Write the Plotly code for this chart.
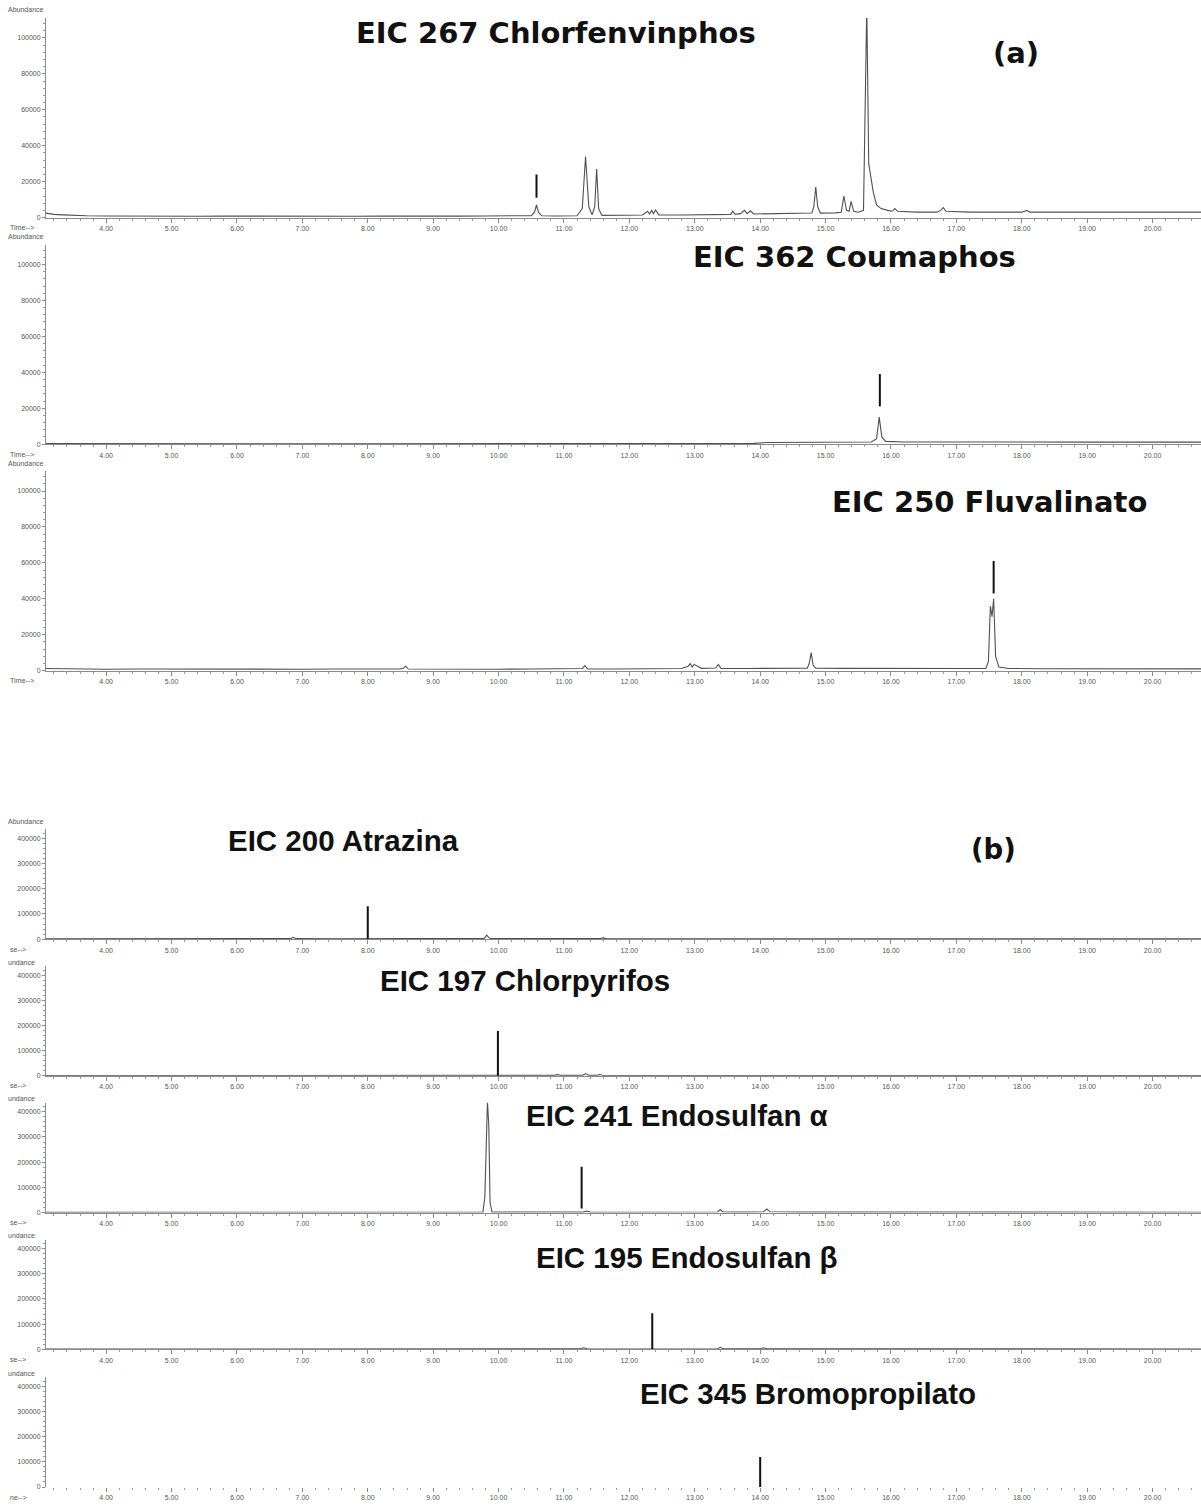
import plotly.graph_objects as go

W, H = 1201, 1506

# ---------------- data (retention time in min, abundance) ----------------
t_a1 = [3.08, 3.2, 3.35, 3.5, 3.7, 4.0, 4.3, 4.6, 5.0, 5.4, 5.8, 6.2, 6.6, 7.0, 7.4, 7.8, 8.2, 8.6, 9.0, 9.4, 9.8,
        10.2, 10.5, 10.55, 10.58, 10.61, 10.66, 10.9, 11.2, 11.28, 11.33, 11.38, 11.43, 11.47, 11.50, 11.53, 11.58,
        11.9, 12.2, 12.28, 12.31, 12.34, 12.37, 12.40, 12.45, 12.8, 13.2, 13.55, 13.58, 13.62, 13.7, 13.76, 13.8,
        13.85, 13.9, 14.2, 14.5, 14.79, 14.82, 14.85, 14.88, 14.92, 15.15, 15.24, 15.28, 15.32, 15.36, 15.39, 15.43,
        15.5, 15.58, 15.61, 15.63, 15.66, 15.69, 15.73, 15.78, 15.85, 15.95, 16.02, 16.06, 16.1, 16.4, 16.7, 16.76,
        16.8, 16.84, 17.2, 17.6, 18.0, 18.08, 18.12, 18.5, 19.0, 19.5, 20.0, 20.4, 20.75]
y_a1 = [2500, 1800, 1500, 1200, 1000, 900, 800, 900, 800, 700, 800, 700, 800, 700, 800, 700, 800, 700, 900, 800, 900,
        1000, 1100, 3000, 7000, 3000, 1000, 900, 1000, 5000, 34000, 6000, 1500, 6000, 27000, 5000, 1200,
        1300, 1400, 3500, 2000, 4000, 2200, 4200, 1500, 1400, 1600, 1800, 3500, 1800, 2200, 4000, 2200,
        3800, 2000, 2200, 2300, 2500, 6000, 17000, 6000, 2500, 2600, 3000, 12000, 4000, 3500, 9000, 3500,
        3000, 4000, 60000, 118000, 30000, 22000, 14000, 7000, 5000, 4000, 3500, 5000, 3500, 3000, 3000, 4000,
        5500, 3500, 3000, 3000, 3000, 4000, 3000, 3000, 2800, 3000, 3000, 2800, 3000]

t_a2 = [3.08, 4.0, 5.0, 6.0, 7.0, 8.0, 9.0, 10.0, 11.0, 12.0, 13.0, 13.9, 14.1, 14.6, 15.0, 15.4, 15.7, 15.78, 15.82,
        15.86, 15.92, 16.2, 16.8, 17.5, 18.0, 18.5, 19.0, 20.0, 20.75]
y_a2 = [300, 200, 200, 200, 200, 200, 200, 200, 200, 200, 300, 400, 900, 1000, 1000, 1100, 1200, 3000, 15000,
        4000, 1500, 1200, 1100, 1200, 1100, 1100, 1100, 1100, 1100]

t_a3 = [3.08, 3.5, 4.0, 4.5, 5.0, 5.5, 6.0, 6.5, 7.0, 7.5, 8.0, 8.5, 8.55, 8.58, 8.62, 9.0, 9.5, 10.0, 10.5, 11.0,
        11.28, 11.32, 11.36, 11.8, 12.3, 12.8, 12.9, 12.93, 12.96, 12.99, 13.1, 13.32, 13.36, 13.4, 13.8, 14.3,
        14.72, 14.75, 14.78, 14.81, 14.85, 15.3, 15.8, 16.3, 16.8, 17.2, 17.45, 17.49, 17.52, 17.545, 17.57, 17.6,
        17.65, 17.8, 18.3, 18.8, 19.3, 19.8, 20.3, 20.75]
y_a3 = [1200, 900, 800, 900, 800, 900, 800, 900, 800, 900, 800, 900, 1500, 2500, 900, 800, 900, 800, 900, 900,
        1200, 2800, 1000, 900, 1100, 1200, 2500, 4000, 2000, 3500, 1300, 1500, 3500, 1300, 1200, 1300,
        1400, 4000, 10000, 3000, 1400, 1300, 1200, 1200, 1100, 1200, 1300, 5000, 36000, 30000, 40000, 8000,
        2000, 1200, 1100, 1100, 1000, 1000, 1000, 1000]

t_b1 = [3.08, 4.0, 5.0, 6.0, 6.5, 6.82, 6.86, 6.9, 7.5, 8.5, 9.5, 9.78, 9.82, 9.85, 9.88, 10.5, 11.0, 11.55, 11.6,
        11.65, 12.5, 13.5, 14.5, 15.5, 16.5, 17.5, 18.5, 19.5, 20.75]
y_b1 = [1000, 1000, 1000, 1500, 1500, 2000, 7000, 2000, 1500, 1500, 1500, 3000, 16000, 6000, 2000, 1500, 2000,
        2500, 5000, 2000, 1500, 1500, 1500, 1500, 1500, 1500, 1500, 1500, 1500]

t_b2 = [3.08, 4.0, 5.0, 6.0, 7.0, 8.0, 9.0, 10.0, 10.6, 10.85, 10.9, 10.95, 11.28, 11.33, 11.38, 11.5, 11.55, 11.6,
        12.0, 13.0, 14.0, 15.0, 16.0, 17.0, 18.0, 19.0, 20.0, 20.75]
y_b2 = [1000, 1000, 1000, 1000, 1000, 1000, 1000, 1000, 1500, 2000, 5000, 2000, 2000, 8000, 2000, 2000, 5000, 1500,
        1500, 1500, 1500, 1500, 1500, 1500, 1500, 1500, 1500, 1500]

t_b3 = [3.08, 4.0, 5.0, 6.0, 7.0, 8.0, 9.0, 9.6, 9.76, 9.79, 9.81, 9.83, 9.85, 9.87, 9.9, 10.3, 10.8, 11.3, 11.35,
        11.4, 12.0, 12.5, 13.0, 13.35, 13.39, 13.43, 13.8, 14.05, 14.1, 14.15, 14.6, 15.5, 16.5, 17.5, 18.5, 19.5,
        20.75]
y_b3 = [1000, 1000, 1000, 1000, 1000, 1500, 1500, 1500, 2000, 60000, 300000, 440000, 350000, 40000, 2000, 1500,
        2500, 2000, 6000, 2000, 1500, 2000, 2000, 2500, 12000, 2500, 2000, 3000, 14000, 3000, 2000, 1500, 1500,
        1500, 1500, 1500, 1500]

t_b4 = [3.08, 4.0, 5.0, 6.0, 7.0, 8.0, 9.0, 10.0, 10.8, 11.25, 11.3, 11.35, 12.0, 12.35, 12.8, 13.35, 13.39, 13.43,
        13.8, 14.0, 14.05, 14.1, 14.6, 15.5, 16.5, 17.5, 18.5, 19.5, 20.75]
y_b4 = [1000, 1000, 1000, 1000, 1000, 1000, 1000, 1000, 1500, 2000, 6000, 2000, 1500, 1500, 2000, 2500, 8000, 2500,
        2000, 2500, 6000, 2500, 2000, 1500, 1500, 1500, 1500, 1500, 1500]

t_b5 = []
y_b5 = []

# marker bars: retention time, lower and upper abundance
mark_t = [10.58, 15.83, 17.57, 8.0, 9.99, 11.27, 12.35, 14.0]
mark_lo = [11000, 21000, 43000, 0, 0, 16000, 0, 0]
mark_hi = [24000, 39000, 61000, 130000, 178000, 182000, 143000, 119000]

titles = ["EIC 267 Chlorfenvinphos", "EIC 362 Coumaphos", "EIC 250 Fluvalinato", "EIC 200 Atrazina",
          "EIC 197 Chlorpyrifos", "EIC 241 Endosulfan α", "EIC 195 Endosulfan β", "EIC 345 Bromopropilato"]

yt_a = [0, 20000, 40000, 60000, 80000, 100000]
yt_b = [0, 100000, 200000, 300000, 400000]
xt = list(range(4, 21))
xt_text = [f"{v:.2f}" for v in xt]

# ---------------- layout geometry (pixels) ----------------
series = [(t_a1, y_a1), (t_a2, y_a2), (t_a3, y_a3), (t_b1, y_b1), (t_b2, y_b2), (t_b3, y_b3), (t_b4, y_b4),
          (t_b5, y_b5)]
# (top px, baseline px, abundance per px)
geo = [(18, 218, 100000 / 180), (245, 445, 100000 / 180), (472, 672, 100000 / 180),
       (831, 941, 400000 / 101), (968, 1078, 400000 / 101), (1105, 1215, 400000 / 101),
       (1242, 1352, 400000 / 101), (1380, 1490, 400000 / 101)]
# title centre positions (px)
title_pos = [(556, 33), (854, 258), (990, 503), (343, 842), (525, 982), (677, 1118), (687, 1260), (808, 1396)]

X0, X1 = 46, 1201
XMIN = 3.08
XMAX = XMIN + (X1 - X0) / 65.4


def py(p):
    return 1 - p / H


def px(p):
    return p / W


fig = go.Figure()
annotations = []
TICKFONT = dict(family="Liberation Sans, Arial", size=7, color="#555")
TITLEFONT_A = dict(family="DejaVu Sans, Arial", size=29, color="#111")
TITLEFONT_B = dict(family="Liberation Sans, Arial", size=29.5, color="#111")
LINE = "#8a8a8a"

for i, ((t, y), (top, base, per)) in enumerate(zip(series, geo)):
    k = "" if i == 0 else str(i + 1)
    xa, ya = "x" + k, "y" + k
    if t:
        fig.add_trace(go.Scatter(x=t, y=y, mode="lines", xaxis=xa, yaxis=ya,
                                 line=dict(color="#505050", width=1.1), hoverinfo="skip", showlegend=False))
    fig.add_trace(go.Scatter(x=[mark_t[i], mark_t[i]], y=[mark_lo[i], mark_hi[i]], mode="lines",
                             xaxis=xa, yaxis=ya, line=dict(color="#111", width=2), hoverinfo="skip",
                             showlegend=False))
    isb = i >= 3
    ymax = (base - top) * per
    fig.layout["xaxis" + k] = dict(
        domain=[px(X0), px(X1)], anchor=ya, range=[XMIN, XMAX],
        tickvals=xt, ticktext=xt_text, ticks="outside", ticklen=4, tickcolor=LINE,
        minor=dict(dtick=0.2, tick0=4, ticks="outside", ticklen=2, tickcolor="#999"),
        showline=(i != 7), linecolor=LINE, linewidth=1, showgrid=False, zeroline=False,
        tickfont=TICKFONT)
    fig.layout["yaxis" + k] = dict(
        domain=[py(base), py(top)], anchor=xa, range=[0, ymax],
        tickvals=yt_b if isb else yt_a, ticks="outside", ticklen=3, tickcolor=LINE,
        minor=dict(dtick=20000 if isb else 4000, ticks="outside", ticklen=2, tickcolor="#999"),
        showline=True, linecolor=LINE, linewidth=1, showgrid=False, zeroline=False,
        tickformat="d", tickfont=TICKFONT)
    tx, ty = title_pos[i]
    annotations.append(dict(text="<b>" + titles[i] + "</b>", x=px(tx), y=py(ty), xref="paper", yref="paper",
                            showarrow=False, xanchor="center", yanchor="middle",
                            font=TITLEFONT_B if isb else TITLEFONT_A))
    # axis captions
    if i in (0, 1, 2, 3):
        annotations.append(dict(text="Abundance", x=px(6), y=py(top - 8), xref="paper", yref="paper",
                                showarrow=False, xanchor="left", yanchor="middle", font=TICKFONT))
    else:
        annotations.append(dict(text="undance", x=px(6), y=py(top - 4), xref="paper", yref="paper",
                                showarrow=False, xanchor="left", yanchor="middle", font=TICKFONT))
    cap = "Time-->" if i < 3 else ("ne-->" if i == 7 else "se-->")
    annotations.append(dict(text=cap, x=px(8), y=py(base + 10), xref="paper", yref="paper",
                            showarrow=False, xanchor="left", yanchor="middle", font=TICKFONT))

annotations.append(dict(text="<b>(a)</b>", x=px(1016), y=py(53), xref="paper", yref="paper", showarrow=False,
                        xanchor="center", yanchor="middle", font=TITLEFONT_A))
annotations.append(dict(text="<b>(b)</b>", x=px(993), y=py(851), xref="paper", yref="paper", showarrow=False,
                        xanchor="center", yanchor="middle",
                        font=dict(family="DejaVu Sans, Arial", size=27.5, color="#111")))

fig.update_layout(width=W, height=H, margin=dict(l=0, r=0, t=0, b=0), plot_bgcolor="white",
                  paper_bgcolor="white", annotations=annotations, showlegend=False)

fig.write_html("out.html")
